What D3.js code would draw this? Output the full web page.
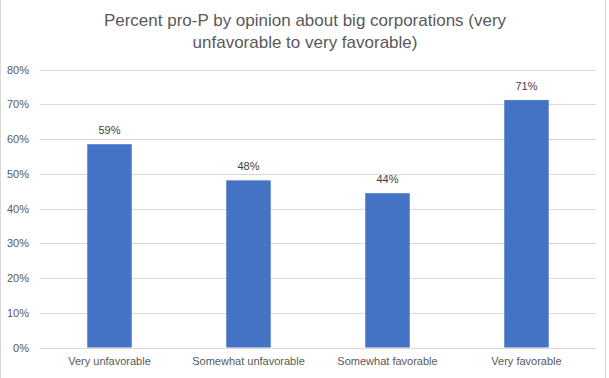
<!doctype html>
<html>
<head>
  <style>
      body {
         margin:0;
         background:#fff;
      }
      svg {
         display:block;
         font-family:"Liberation Sans", Arial, sans-serif;
      }
      .grid line {
         stroke:#d9d9d9;
         shape-rendering: crispEdges;
      }
      .grid path {
         display:none;
      }
      .axis path, .axis line {
         display:none;
      }
      .axis text {
         font-size:11px;
         fill:#595959;
      }
  </style>
  <script src="https://cdn.jsdelivr.net/npm/d3@7"></script>
</head>

<body>
  <script>

      // Chart data
      var categories = ["Very unfavorable", "Somewhat unfavorable", "Somewhat favorable", "Very favorable"];
      var values = [58.5, 48.1, 44.4, 71.2];
      var valueLabels = ["59%", "48%", "44%", "71%"];
      var yTicks = [0, 10, 20, 30, 40, 50, 60, 70, 80];
      var titleLines = ["Percent pro-P by opinion about big corporations (very", "unfavorable to very favorable)"];

      var width = 609, height = 378;
      var margin = {top:69.5, right:13, bottom:30.5, left:40};

      var svgDoc = d3.select("body").append("svg")
         .attr("width", width)
         .attr("height", height);

      // chart border
      svgDoc.append("rect")
         .attr("x", 0.5)
         .attr("y", -1)
         .attr("width", width - 4)
         .attr("height", height + 2)
         .attr("fill", "none")
         .attr("stroke", "#d9d9d9");

      var x = d3.scaleBand()
         .domain(categories)
         .range([margin.left, width - margin.right])
         .paddingInner(0.68)
         .paddingOuter(0.34);

      var y = d3.scaleLinear()
         .domain([0, 80])
         .range([height - margin.bottom, margin.top]);

      // gridlines
      svgDoc.append("g")
         .attr("class", "grid")
         .attr("transform", "translate(" + margin.left + ",0)")
         .call(d3.axisRight(y).tickValues(yTicks)
            .tickSize(width - margin.right - margin.left).tickFormat(""));

      // y axis labels
      svgDoc.append("g")
         .attr("class", "axis")
         .attr("transform", "translate(" + (margin.left - 11) + ",0)")
         .call(d3.axisLeft(y).tickValues(yTicks).tickSize(0).tickPadding(0)
            .tickFormat(function(d) { return d + "%"; }));

      // x axis labels
      svgDoc.append("g")
         .attr("class", "axis")
         .attr("transform", "translate(0," + (height - margin.bottom) + ")")
         .call(d3.axisBottom(x).tickSize(0).tickPadding(10));

      // bars
      svgDoc.append("g").selectAll("rect")
         .data(values)
         .enter()
         .append("rect")
         .attr("x", function(d,i) { return x(categories[i]); })
         .attr("y", function(d) { return y(d); })
         .attr("width", x.bandwidth())
         .attr("height", function(d) { return y(0) - y(d); })
         .attr("fill", "#4472c4");

      // value labels
      svgDoc.append("g").selectAll("text")
         .data(values)
         .enter()
         .append("text")
         .attr("x", function(d,i) { return x(categories[i]) + x.bandwidth()/2; })
         .attr("y", function(d) { return y(d) - 10; })
         .attr("text-anchor", "middle")
         .attr("font-size", "11px")
         .attr("fill", "#404040")
         .text(function(d,i) { return valueLabels[i]; });

      // title
      svgDoc.append("g").selectAll("text")
         .data(titleLines)
         .enter()
         .append("text")
         .attr("x", 305)
         .attr("y", function(d,i) { return 26 + i*21.5; })
         .attr("text-anchor", "middle")
         .attr("font-size", "17px")
         .attr("fill", "#595959")
         .text(function(d) { return d; });

  </script>
</body>
</html>
